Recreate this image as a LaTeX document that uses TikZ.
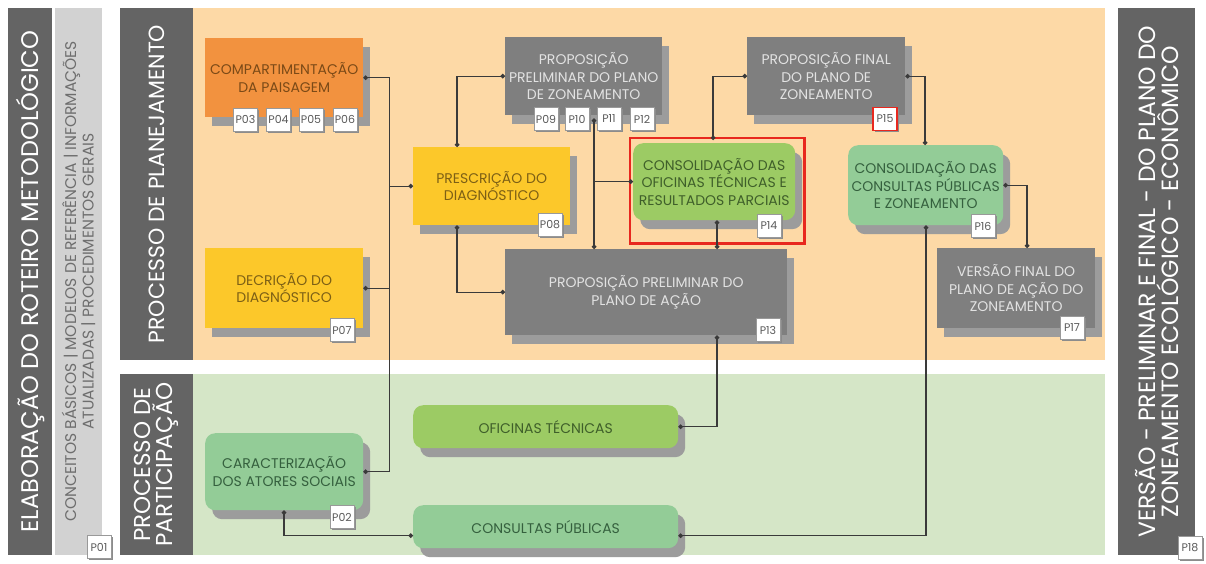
\documentclass[tikz,border=0pt]{standalone}
\usepackage{fontspec}
\setmainfont{Poppins}
\usetikzlibrary{shadows,arrows.meta,calc}
\definecolor{bgorange}{HTML}{FDD9A6}
\definecolor{bggreen}{HTML}{D5E6C7}
\definecolor{bardark}{HTML}{646464}
\definecolor{barlight}{HTML}{D2D2D2}
\definecolor{boxgray}{HTML}{7F7F7F}
\definecolor{shgray}{HTML}{9C9C9C}
\definecolor{boxorange}{HTML}{F2923F}
\definecolor{boxyellow}{HTML}{FCC82A}
\definecolor{boxgreen}{HTML}{9CCB64}
\definecolor{boxmint}{HTML}{93CC97}
\definecolor{txtorange}{HTML}{7B4A17}
\definecolor{txtyellow}{HTML}{7D6015}
\definecolor{txtgreen}{HTML}{3F5F2A}
\definecolor{txtmint}{HTML}{35603E}
\definecolor{txtgray}{HTML}{E2E2E2}
\definecolor{lnk}{HTML}{3A3A3A}
\definecolor{redframe}{HTML}{E8281E}
\definecolor{tagtxt}{HTML}{5A5A5A}
\definecolor{coltxt}{HTML}{6E6E6E}
\tikzset{
  bar/.style={rotate=90, fill=bardark, text=white, inner sep=0pt, align=center,
    font=\fontsize{22}{22}\selectfont},
  box/.style={anchor=north west, inner sep=2pt, align=center,
    font=\fontsize{14}{17.5}\selectfont,
    drop shadow={shadow xshift=7pt,shadow yshift=-9pt,fill=shgray,opacity=1}},
  graybox/.style={box, fill=boxgray, text=txtgray},
  orangebox/.style={box, fill=boxorange, text=txtorange},
  yellowbox/.style={box, fill=boxyellow, text=txtyellow},
  greenbox/.style={box, fill=boxgreen, text=txtgreen, rounded corners=10pt},
  mintbox/.style={box, fill=boxmint, text=txtmint, rounded corners=10pt},
  tag/.style={draw=black!40, fill=white, minimum width=24pt, minimum height=23pt,
    inner sep=0pt, font=\fontsize{11}{11}\selectfont, text=tagtxt,
    drop shadow={shadow xshift=1.5pt,shadow yshift=-1.5pt,fill=black!45,opacity=1}},
  link/.style={draw=lnk, line width=1.2pt, {Circle[length=4.5pt]}-{Circle[length=4.5pt]}},
  linkstart/.style={draw=lnk, line width=1.2pt, {Circle[length=4.5pt]}-},
  linkend/.style={draw=lnk, line width=1.2pt, -{Circle[length=4.5pt]}},
}
\begin{document}
\begin{tikzpicture}[x=1pt,y=-1pt]
\useasboundingbox (0,0) rectangle (1206,563);
\fill[white] (0,0) rectangle (1206,563);
% backgrounds
\fill[bgorange] (193,8) rectangle (1105,360);
\fill[bggreen] (193,374) rectangle (1105,555);
% side bars
\node[bar, minimum width=547pt, minimum height=44pt, font=\fontsize{24}{24}\selectfont] (elab) at (30,281.5)
  {ELABORAÇÃO DO ROTEIRO METODOLÓGICO};
\node[bar, fill=barlight, text=coltxt, minimum width=547pt, minimum height=47pt,
  font=\fontsize{15.5}{15}\selectfont] (conc) at (78.5,281.5)
  {CONCEITOS BÁSICOS | MODELOS DE REFERÊNCIA | INFORMAÇÕES\\ATUALIZADAS | PROCEDIMENTOS GERAIS};
\node[bar, minimum width=352pt, minimum height=73pt] (plan) at (156.5,184)
  {\raisebox{-4pt}{PROCESSO DE PLANEJAMENTO}};
\node[bar, minimum width=181pt, minimum height=73pt, font=\fontsize{23}{22}\selectfont] (part) at (156.5,464.5)
  {PROCESSO DE\\PARTICIPAÇÃO};
\node[bar, minimum width=547pt, minimum height=77pt, font=\fontsize{23.5}{23}\selectfont] (vers) at (1156.5,281.5)
  {VERSÃO - PRELIMINAR E FINAL - DO PLANO DO\\ZONEAMENTO ECOLÓGICO - ECONÔMICO};
\node[tag] (p01) at (99,547) {P01};
\node[tag] (p18) at (1190,548) {P18};
% boxes
\node[orangebox, minimum width=158pt, minimum height=79pt] (cmp) at (205,38) {COMPARTIMENTAÇÃO\\DA PAISAGEM};
\node[yellowbox, minimum width=158pt, minimum height=80pt] (dec) at (205,248) {DECRIÇÃO DO\\DIAGNÓSTICO};
\node[yellowbox, minimum width=157pt, minimum height=78pt] (pres) at (413,147) {PRESCRIÇÃO DO\\DIAGNÓSTICO};
\node[graybox, minimum width=157pt, minimum height=78pt] (pz) at (505,37) {PROPOSIÇÃO\\PRELIMINAR DO PLANO\\DE ZONEAMENTO};
\node[greenbox, minimum width=162pt, minimum height=77pt] (cot) at (633,143) {CONSOLIDAÇÃO DAS\\OFICINAS TÉCNICAS E\\RESULTADOS PARCIAIS};
\node[graybox, minimum width=158pt, minimum height=78pt] (pf) at (747,37) {PROPOSIÇÃO FINAL\\DO PLANO DE\\ZONEAMENTO};
\node[mintbox, minimum width=155pt, minimum height=80pt] (cc) at (848,145) {CONSOLIDAÇÃO DAS\\CONSULTAS PÚBLICAS\\E ZONEAMENTO};
\node[graybox, minimum width=158pt, minimum height=80pt] (vf) at (937,248) {VERSÃO FINAL DO\\PLANO DE AÇÃO DO\\ZONEAMENTO};
\node[graybox, minimum width=282pt, minimum height=86pt] (pa) at (505,249) {PROPOSIÇÃO PRELIMINAR DO\\PLANO DE AÇÃO};
\node[greenbox, minimum width=265pt, minimum height=43pt] (ot) at (413,405) {OFICINAS TÉCNICAS};
\node[mintbox, minimum width=265pt, minimum height=43pt] (cp) at (413,505) {CONSULTAS PÚBLICAS};
\node[mintbox, minimum width=158pt, minimum height=77pt] (car) at (205,433) {CARACTERIZAÇÃO\\DOS ATORES SOCIAIS};
% red highlight
\draw[redframe, line width=2.6pt] ([shift={(-3pt,5pt)}]cot.north west) rectangle ([shift={(9pt,-23pt)}]cot.south east);
% connectors
\coordinate (bus) at ([xshift=26pt]cmp.east);
\draw[link] (cmp.east) -- (bus) -- (bus |- car.east) -- (car.east);
\draw[linkstart] (dec.east) -- (dec.east -| bus);
\draw[linkend] (pres.west -| bus) -- (pres.west);
\draw[link] ([xshift=44pt]pres.north west) |- (pz.west);
\draw[link] ([xshift=44pt]pres.south west) |- (pa.west);
\coordinate (pzb) at ([xshift=89pt,yshift=-3pt]pz.south west);
\draw[link] (pzb) -- (pzb |- pa.north);
\draw[linkend] (pzb |- cot.west) -- (cot.west);
\draw[link] ([xshift=80pt,yshift=3pt]cot.north west) |- (pf.west);
\coordinate (cotb) at ([xshift=84pt]cot.south west);
\draw[link] (cotb) -- (cotb |- pa.north);
\draw[link] (pf.east) -| ([xshift=77pt]cc.north west);
\draw[link] (cc.east) -| ([xshift=90pt]vf.north west);
\draw[link] ([xshift=78pt]cc.south west) |- ([yshift=-9pt]cp.east);
\draw[link] ([xshift=212pt]pa.south west) |- (ot.east);
\draw[link] ([xshift=79pt]car.south west) |- ([yshift=-9pt]cp.west);
% tags
\node[tag] (p03) at (245.5,119.5) {P03};
\node[tag] (p04) at (278.5,119.5) {P04};
\node[tag] (p05) at (311,119.5) {P05};
\node[tag] (p06) at (345,119.5) {P06};
\node[tag] (p07) at (342,330) {P07};
\node[tag] (p08) at (550,225) {P08};
\node[tag] (p09) at (546,119) {P09};
\node[tag] (p10) at (577,119) {P10};
\node[tag] (p11) at (609,119) {P11};
\node[tag] (p12) at (642,119) {P12};
\node[tag] (p13) at (768,330) {P13};
\node[tag] (p14) at (769,226) {P14};
\node[tag, draw=redframe, line width=1.2pt] (p15) at (885,119) {P15};
\node[tag] (p16) at (983,226) {P16};
\node[tag] (p17) at (1072,328) {P17};
\node[tag] (p02) at (342,517) {P02};
\end{tikzpicture}
\end{document}
